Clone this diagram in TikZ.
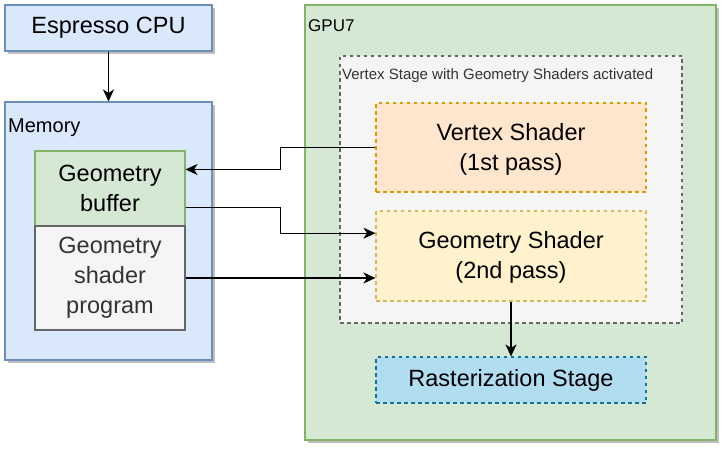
\documentclass[tikz,border=0pt]{standalone}
\usepackage{fontspec}
\setmainfont{Liberation Sans}
\usepackage{tikz}
\usetikzlibrary{arrows.meta,positioning,calc,shadows}
\usepackage{xcolor}
\definecolor{bfill}{HTML}{DAE8FC}
\definecolor{bline}{HTML}{6C8EBF}
\definecolor{gfill}{HTML}{D5E8D4}
\definecolor{gline}{HTML}{82B366}
\definecolor{sfill}{HTML}{F5F5F5}
\definecolor{sline}{HTML}{666666}
\definecolor{ofill}{HTML}{FFE6CC}
\definecolor{oline}{HTML}{D79B00}
\definecolor{yfill}{HTML}{FFF2CC}
\definecolor{yline}{HTML}{D6B656}
\definecolor{cfill}{HTML}{B1DDF0}
\definecolor{cline}{HTML}{10739E}
\definecolor{stxt}{HTML}{333333}
\tikzset{
  box/.style     = {draw, line width=1.1pt, rectangle, inner sep=0pt, align=center,
                    font=\fontsize{23.5}{30}\selectfont},
  shade3/.style  = {general shadow={fill=black!25, shadow xshift=3pt, shadow yshift=-3pt}},
  dash3/.style   = {dash pattern=on 3.5pt off 3.5pt},
  grplbl/.style  = {anchor=base west, inner sep=0pt, font=\fontsize{17}{20}\selectfont},
  sig/.style     = {-{Stealth[length=12pt,width=11pt,inset=3.5pt]}, line width=1.1pt},
}
\begin{document}
\begin{tikzpicture}[x=1pt,y=-1pt]
\useasboundingbox (0,0) rectangle (726,452);
% containers
\node[box,shade3,fill=bfill,draw=bline,minimum width=207pt,minimum height=46pt]
  (cpu) at (108.5,28) {Espresso CPU};
\node[box,shade3,fill=bfill,draw=bline,minimum width=207pt,minimum height=258pt]
  (mem) at (108.5,231) {};
\node[grplbl,font=\fontsize{20}{24}\selectfont] (memlbl) at (8,132) {Memory};
\node[box,shade3,fill=gfill,draw=gline,minimum width=411pt,minimum height=435pt]
  (gpu) at (510.5,222.5) {};
\node[grplbl] (gpulbl) at (308,32) {GPU7};
\node[box,dash3,fill=sfill,draw=sline,minimum width=342pt,minimum height=267pt]
  (vstage) at (511,189.5) {};
\node[grplbl,font=\fontsize{15}{18}\selectfont,text=stxt] (vslbl) at (342,80)
  {Vertex Stage with Geometry Shaders activated};
% memory contents
\node[box,fill=gfill,draw=gline,minimum width=150pt,minimum height=75pt]
  (gbuf) at (110,188.5) {Geometry\\buffer};
\node[box,fill=sfill,draw=sline,text=stxt,minimum width=150pt,minimum height=104pt]
  (prog) at (110,278) {Geometry\\shader\\program};
% shader stages
\node[box,dash3,fill=ofill,draw=oline,minimum width=270pt,minimum height=89pt,
  text depth=2pt] (vs) at (511,147.5) {Vertex Shader\\(1st pass)};
\node[box,dash3,fill=yfill,draw=yline,minimum width=270pt,minimum height=90pt,
  text depth=2pt] (gs) at (511,256) {Geometry Shader\\(2nd pass)};
\node[box,dash3,fill=cfill,draw=cline,minimum width=270pt,minimum height=46pt]
  (rast) at (511,380) {Rasterization Stage};
% ports
\coordinate (gbufin)  at ($(gbuf.north east)!0.25!(gbuf.south east)$);
\coordinate (gbufout) at ($(gbuf.north east)!0.75!(gbuf.south east)$);
\coordinate (gsin1)   at ($(gs.north west)!0.25!(gs.south west)$);
% connectors
\draw[sig] (cpu) -- (mem);
\draw[sig] (vs.west) -| ($(vs.west)!0.5!(gbufin)$) |- (gbufin);
\draw[sig] (gbufout) -| ($(gbufout)!0.5!(gsin1)$) |- (gsin1);
\draw[sig] (prog.east) -- (prog.east -| gs.west);
\draw[sig] (gs) -- (rast);
\end{tikzpicture}
\end{document}
